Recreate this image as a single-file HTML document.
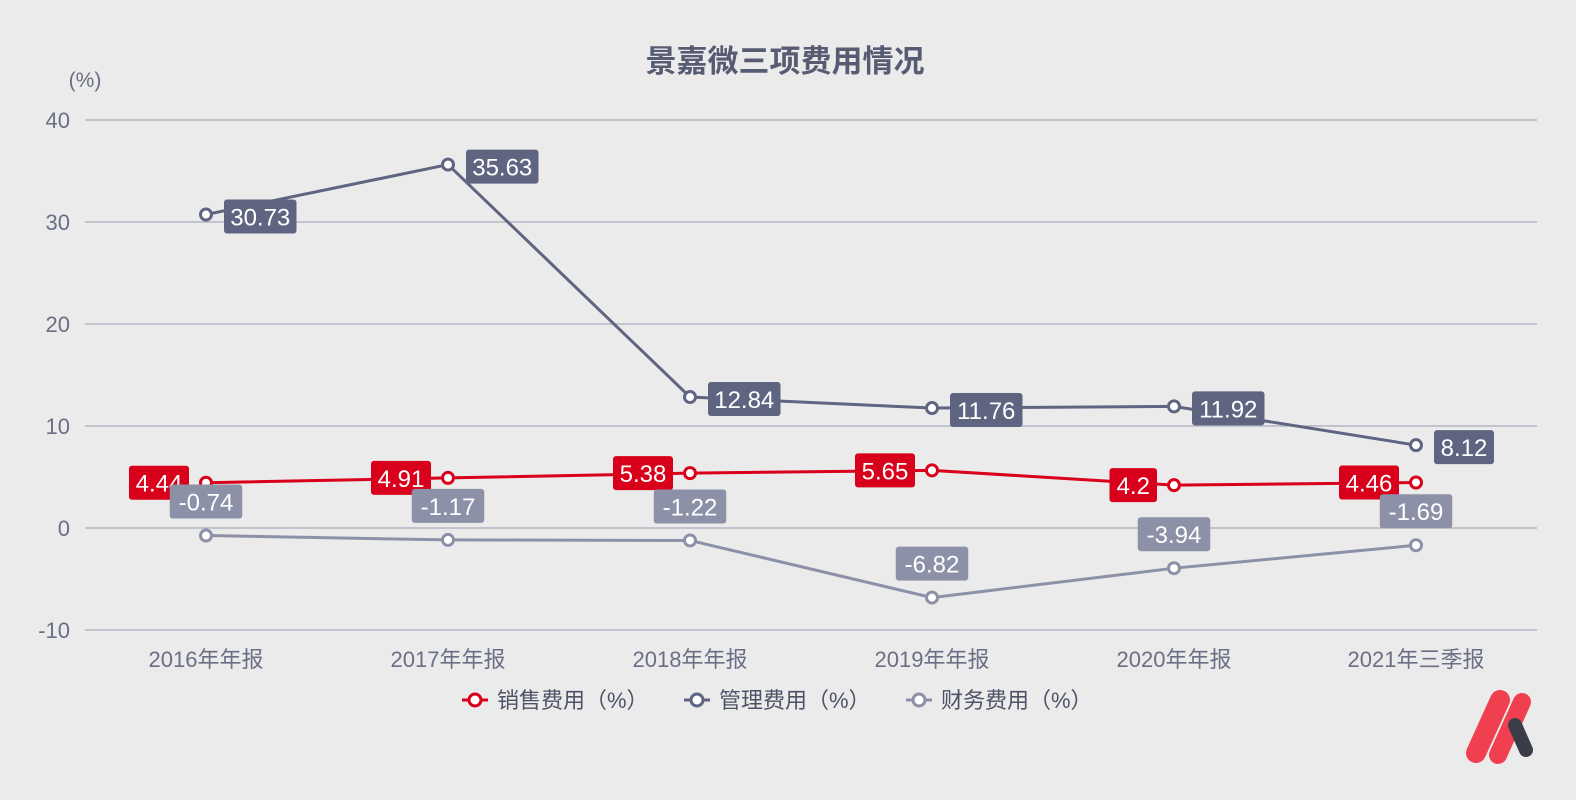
<!DOCTYPE html>
<html><head><meta charset="utf-8"><style>
body{margin:0;background:#ebebeb;}
svg{display:block;font-family:"Liberation Sans","Noto Sans CJK SC",sans-serif;}
</style></head><body>
<svg id="chart" width="1576" height="800" viewBox="0 0 1576 800">
<rect width="1576" height="800" fill="#ebebeb"/>
<text x="785" y="72" text-anchor="middle" font-size="31" font-weight="bold" fill="#585c73">景嘉微三项费用情况</text>
<text x="85" y="87" text-anchor="middle" font-size="21" fill="#6b6f85">(%)</text>
<g id="grid"></g><g id="series"></g><g id="labels"></g>
<g font-size="22" fill="#4e5266">
 <g><line x1="462" y1="700" x2="488" y2="700" stroke="#d9001b" stroke-width="3"/><circle cx="475" cy="700" r="6" fill="#fff" stroke="#d9001b" stroke-width="3"/><text x="497" y="708">销售费用（%）</text></g>
 <g><line x1="684" y1="700" x2="710" y2="700" stroke="#5f6580" stroke-width="3"/><circle cx="697" cy="700" r="6" fill="#fff" stroke="#5f6580" stroke-width="3"/><text x="719" y="708">管理费用（%）</text></g>
 <g><line x1="906" y1="700" x2="932" y2="700" stroke="#8d91a8" stroke-width="3"/><circle cx="919" cy="700" r="6" fill="#fff" stroke="#8d91a8" stroke-width="3"/><text x="941" y="708">财务费用（%）</text></g>
</g>
<g>
 <path d="M1476 753 L1500 700" stroke="#f04050" stroke-width="20" stroke-linecap="round"/>
 <path d="M1498 755 L1522 702" stroke="#f04050" stroke-width="18" stroke-linecap="round"/>
 <path d="M1515 725 L1526 750" stroke="#3a3d48" stroke-width="14" stroke-linecap="round"/>
</g>
</svg>
<script>
const categories=["2016年年报","2017年年报","2018年年报","2019年年报","2020年年报","2021年三季报"];
const salesValues=[4.44,4.91,5.38,5.65,4.2,4.46];
const adminValues=[30.73,35.63,12.84,11.76,11.92,8.12];
const financeValues=[-0.74,-1.17,-1.22,-6.82,-3.94,-1.69];
const yTicks=[40,30,20,10,0,-10];
const NS="http://www.w3.org/2000/svg";
const x0=85,x1=1537,yTop=120,yBot=630,vMax=40,vMin=-10;
const bw=(x1-x0)/categories.length;
const X=i=>x0+bw*(i+0.5);
const Y=v=>yTop+(vMax-v)/(vMax-vMin)*(yBot-yTop);
function mk(tag,attrs,parent){const e=document.createElementNS(NS,tag);for(const k in attrs)e.setAttribute(k,attrs[k]);parent.appendChild(e);return e;}
const grid=document.getElementById('grid'),ser=document.getElementById('series'),lab=document.getElementById('labels');
yTicks.forEach(t=>{
 const l=mk('line',{x1:x0,x2:x1,y1:Y(t),y2:Y(t),stroke:'#a9abbd','stroke-width':1.3},grid);
 
 
 const tx=mk('text',{x:70,y:Y(t)+8,'text-anchor':'end','font-size':22,fill:'#6b6f85'},grid);
 tx.textContent=t;
 
 
});
categories.forEach((c,i)=>{
 const tx=mk('text',{x:X(i),y:667,'text-anchor':'middle','font-size':22,fill:'#6b6f85'},grid);
 tx.textContent=c;
 
 
});
const series=[{vals:salesValues,color:'#d9001b',name:'sales',pos:'left'},{vals:adminValues,color:'#5f6580',name:'admin',pos:'right'},{vals:financeValues,color:'#8d91a8',name:'finance',pos:'top'}];
series.forEach(s=>{
 const p=mk('polyline',{points:s.vals.map((v,i)=>X(i)+','+Y(v)).join(' '),fill:'none',stroke:s.color,'stroke-width':3},ser);
 
 
 s.vals.forEach((v,i)=>{
  const c=mk('circle',{cx:X(i),cy:Y(v),r:5.5,fill:'#fff',stroke:s.color,'stroke-width':3},ser);
  
  
 });
});
series.forEach(s=>{
 s.vals.forEach((v,i)=>{
  const txt=String(v);const w=txt.length*12.5+10,h=34;
  let bx,by;const px=X(i),py=Y(v);
  if(s.pos==='left'){bx=px-17-w;by=py-h/2;}
  else if(s.pos==='right'){bx=px+18;by=py-h/2+2;}
  else{bx=px-w/2;by=py-17-h;}
  const g=mk('g',{},lab);
  
  
  mk('rect',{x:bx,y:by,width:w,height:h,rx:3,fill:s.color},g);
  const t=mk('text',{x:bx+w/2,y:by+h/2+9,'text-anchor':'middle','font-size':24,fill:'#fff'},g);
  t.textContent=txt;
 });
});
</script>
</body></html>
